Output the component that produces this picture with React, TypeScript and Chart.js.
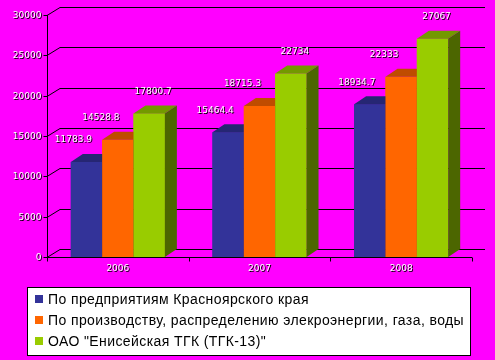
import React, { useEffect, useRef } from "react";
import { Chart, registerables } from "chart.js";

Chart.register(...registerables);

const categories = ["2006", "2007", "2008"];
const seriesNames = [
  "По предприятиям Красноярского края",
  "По производству, распределению элекроэнергии, газа, воды",
  'ОАО "Енисейская ТГК (ТГК-13)"',
];
const krai = [11783.9, 15464.4, 18934.7];
const energy = [14528.8, 18715.3, 22333];
const tgk = [17800.7, 22734, 27067];
const valueLabels = [
  ["11783.9", "15464.4", "18934.7"],
  ["14528.8", "18715.3", "22333"],
  ["17800.7", "22734", "27067"],
];

const frontColors = ["#333399", "#FF6600", "#99CC00"];
const topColors = ["#262673", "#BF4C00", "#739900"];
const sideColors = ["#1A1A4D", "#803300", "#4C6600"];
const labelDx = [-13, -17, 4];

const DX = 12;
const DY = 8;
const WDX = 13;
const WDY = 8;
const TEXT_FONT = "9px 'DejaVu Sans'";

function outlinedText(ctx: CanvasRenderingContext2D, text: string, x: number, y: number) {
  ctx.fillStyle = "#000000";
  ctx.fillText(text, x + 1, y + 1);
  ctx.fillStyle = "#FFFFFF";
  ctx.fillText(text, x, y);
}

const threeD = {
  id: "threeD",
  beforeDatasetsDraw(chart: any) {
    const ctx = chart.ctx as CanvasRenderingContext2D;
    const y = chart.scales.y;
    const area = chart.chartArea;
    ctx.save();
    ctx.strokeStyle = "#000000";
    ctx.lineWidth = 1;
    y.ticks.forEach((t: any) => {
      const py = Math.round(y.getPixelForValue(t.value)) + 0.5;
      ctx.beginPath();
      ctx.moveTo(area.left, py);
      ctx.lineTo(area.left + WDX, py - WDY);
      ctx.lineTo(area.right + WDX, py - WDY);
      ctx.stroke();
    });
    ctx.restore();
  },
  afterDatasetsDraw(chart: any) {
    const ctx = chart.ctx as CanvasRenderingContext2D;
    const area = chart.chartArea;
    const y = chart.scales.y;
    const x = chart.scales.x;
    ctx.save();
    // 3D bars, drawn left to right so each front face hides the previous side
    const nSets = chart.data.datasets.length;
    for (let k = 0; k < categories.length; k++) {
      for (let i = 0; i < nSets; i++) {
        const bar: any = chart.getDatasetMeta(i).data[k];
        const x0 = bar.x - bar.width / 2;
        const x1 = bar.x + bar.width / 2;
        const top = bar.y;
        const base = bar.base;
        ctx.fillStyle = frontColors[i];
        ctx.fillRect(x0, top, x1 - x0, base - top);
        ctx.fillStyle = topColors[i];
        ctx.beginPath();
        ctx.moveTo(x0, top);
        ctx.lineTo(x0 + DX, top - DY);
        ctx.lineTo(x1 + DX, top - DY);
        ctx.lineTo(x1, top);
        ctx.closePath();
        ctx.fill();
        ctx.fillStyle = sideColors[i];
        ctx.beginPath();
        ctx.moveTo(x1, top);
        ctx.lineTo(x1 + DX, top - DY);
        ctx.lineTo(x1 + DX, base - DY);
        ctx.lineTo(x1, base);
        ctx.closePath();
        ctx.fill();
      }
    }
    ctx.strokeStyle = "#000000";
    ctx.lineWidth = 1;
    // axes
    const by = Math.round(y.getPixelForValue(0)) + 0.5;
    const lx = Math.round(area.left) + 0.5;
    ctx.beginPath();
    ctx.moveTo(lx, Math.round(y.getPixelForValue(y.max)));
    ctx.lineTo(lx, by + 4);
    ctx.moveTo(lx, by);
    ctx.lineTo(area.right, by);
    ctx.stroke();
    // y tick marks and labels
    ctx.font = TEXT_FONT;
    ctx.textAlign = "right";
    ctx.textBaseline = "middle";
    y.ticks.forEach((t: any) => {
      const py = Math.round(y.getPixelForValue(t.value)) + 0.5;
      ctx.beginPath();
      ctx.moveTo(lx - 4, py);
      ctx.lineTo(lx, py);
      ctx.stroke();
      outlinedText(ctx, String(t.value), lx - 6, py);
    });
    // x tick marks
    const n = categories.length;
    const cw = (area.right - area.left) / n;
    for (let k = 1; k <= n; k++) {
      const px = Math.round(area.left + k * cw) + 0.5;
      ctx.beginPath();
      ctx.moveTo(px, by);
      ctx.lineTo(px, by + 4);
      ctx.stroke();
    }
    ctx.textAlign = "center";
    categories.forEach((c, k) => {
      outlinedText(ctx, c, x.getPixelForTick(k), by + 11);
    });
    // value labels
    chart.data.datasets.forEach((ds: any, i: number) => {
      const meta = chart.getDatasetMeta(i);
      meta.data.forEach((bar: any, k: number) => {
        outlinedText(ctx, valueLabels[i][k], bar.x + labelDx[i], bar.y - 22);
      });
    });
    ctx.restore();
  },
  afterDraw(chart: any) {
    const ctx = chart.ctx as CanvasRenderingContext2D;
    ctx.save();
    const bx = 27.5, byy = 287.5, bw = 443, bh = 68;
    ctx.fillStyle = "#FFFFFF";
    ctx.fillRect(bx, byy, bw, bh);
    ctx.strokeStyle = "#000000";
    ctx.lineWidth = 1;
    ctx.strokeRect(bx, byy, bw, bh);
    ctx.font = "14px 'Liberation Sans'";
    (ctx as any).letterSpacing = "0.4px";
    ctx.textAlign = "left";
    ctx.textBaseline = "middle";
    chart.data.datasets.forEach((ds: any, i: number) => {
      const cy = 299 + i * 21;
      ctx.fillStyle = frontColors[i];
      ctx.fillRect(35, cy - 4, 8, 8);
      ctx.fillStyle = "#000000";
      ctx.fillText(ds.label, 48, cy + 1);
    });
    ctx.restore();
  },
};

export default function App() {
  const ref = useRef<HTMLCanvasElement | null>(null);
  useEffect(() => {
    if (!ref.current) return;
    const seriesData = [krai, energy, tgk];
    const chart = new Chart(ref.current, {
      type: "bar",
      data: {
        labels: categories,
        datasets: seriesData.map((d, i) => ({
          label: seriesNames[i],
          data: d,
          backgroundColor: frontColors[i],
          borderWidth: 0,
          categoryPercentage: 0.664,
          barPercentage: 1,
        })),
      },
      options: {
        animation: false,
        responsive: false,
        maintainAspectRatio: false,
        layout: { padding: { left: 0, right: 23, top: 15, bottom: 0 } },
        plugins: { legend: { display: false }, tooltip: { enabled: false } },
        scales: {
          x: {
            grid: { display: false },
            border: { display: false },
            ticks: { display: false },
            afterFit: (s: any) => {
              s.height = 103;
            },
          },
          y: {
            min: 0,
            max: 30000,
            ticks: { display: false, stepSize: 5000 },
            grid: { display: false },
            border: { display: false },
            afterFit: (s: any) => {
              s.width = 47;
            },
          },
        },
      },
      plugins: [threeD],
    });
    return () => chart.destroy();
  }, []);
  return (
    <div style={{ position: "absolute", left: 0, top: 0, width: 495, height: 360, background: "#FF00FF" }}>
      <canvas ref={ref} width={495} height={360} style={{ display: "block" }} />
    </div>
  );
}
